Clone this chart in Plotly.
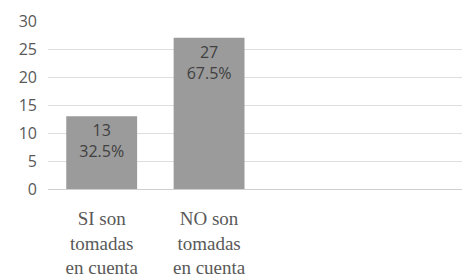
import plotly.graph_objects as go

categories = ["SI son<br>tomadas<br>en cuenta", "NO son<br>tomadas<br>en cuenta"]
counts = [13, 27]
percents = ["32.5%", "67.5%"]
y_ticks = [0, 5, 10, 15, 20, 25, 30]

positions = list(range(len(categories)))
labels = [f"{c}<br>{p}" for c, p in zip(counts, percents)]

fig = go.Figure(go.Bar(
    x=positions, y=counts, text=labels,
    textposition="inside", insidetextanchor="end", constraintext="none",
    textfont=dict(family="Open Sans", size=16, color="#404040"),
    marker=dict(color="#9b9b9b", line=dict(width=0)),
    width=0.66, cliponaxis=False,
))

fig.update_layout(
    width=462, height=272,
    margin=dict(l=40, r=0, t=13, b=91),
    paper_bgcolor="white", plot_bgcolor="white",
    showlegend=False,
    xaxis=dict(
        range=[-0.5, 3.43], tickmode="array", tickvals=positions, ticktext=categories,
        showgrid=False, zeroline=False, showline=False, ticks="",
        tickfont=dict(family="Liberation Serif", size=19, color="#595959"),
        ticklabelstandoff=16, tickangle=0, automargin=False,
    ),
    yaxis=dict(
        range=[0, 30], tickmode="array", tickvals=y_ticks,
        showgrid=True, gridcolor="#dedede", gridwidth=1,
        zeroline=True, zerolinecolor="#cfcfcf", zerolinewidth=1,
        showline=False, ticks="",
        tickfont=dict(family="Open Sans", size=16, color="#595959"),
        ticklabelstandoff=10, automargin=False,
    ),
    uniformtext=dict(mode=False),
)

fig.write_html("out.html")
